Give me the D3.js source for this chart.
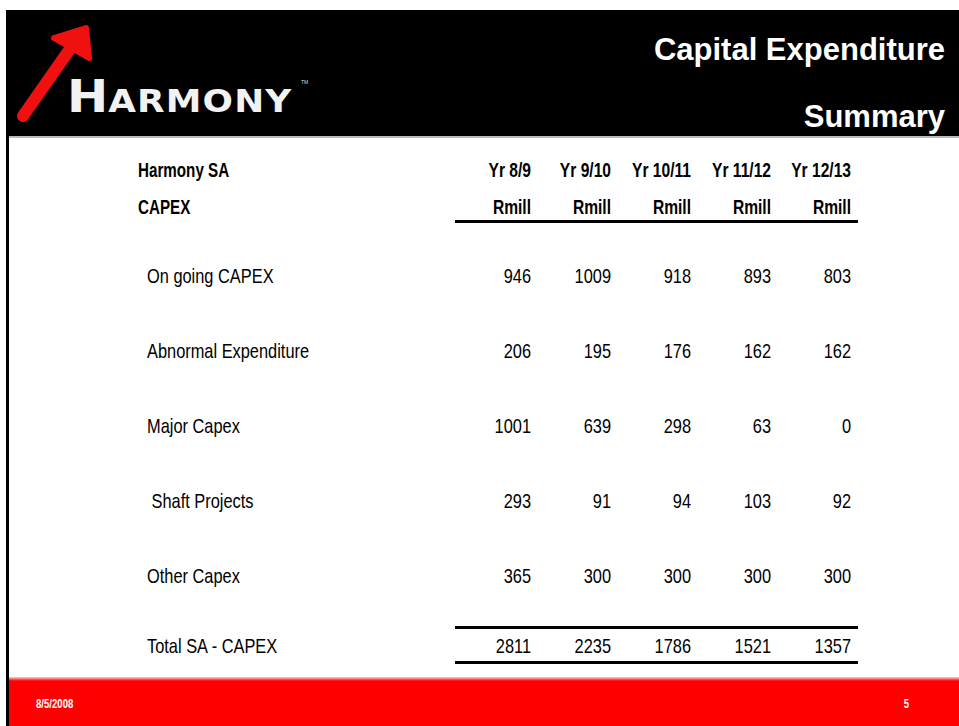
<!DOCTYPE html>
<html>
<head>
<meta charset="utf-8">
<script src="https://cdn.jsdelivr.net/npm/d3@7"></script>
<style>
  body { margin: 0; background: #fff; }
  svg { display: block; }
  .narrow { font-family: "Liberation Sans", Arial, sans-serif; }
</style>
</head>
<body>
<div id="slide"></div>
<script>
// table data
const years = ['Yr 8/9', 'Yr 9/10', 'Yr 10/11', 'Yr 11/12', 'Yr 12/13'];
const units = ['Rmill', 'Rmill', 'Rmill', 'Rmill', 'Rmill'];
const rowLabels = ['On going CAPEX', 'Abnormal Expenditure', 'Major Capex', ' Shaft Projects', 'Other Capex'];
const onGoing = [946, 1009, 918, 893, 803];
const abnormal = [206, 195, 176, 162, 162];
const majorCapex = [1001, 639, 298, 63, 0];
const shaftProjects = [293, 91, 94, 103, 92];
const otherCapex = [365, 300, 300, 300, 300];
const totalLabel = 'Total SA - CAPEX';
const totals = [2811, 2235, 1786, 1521, 1357];

const rows = [onGoing, abnormal, majorCapex, shaftProjects, otherCapex];

const W = 959, H = 726;
const SX = 0.82; // condensed look, no narrow font installed

const svg = d3.select('#slide').append('svg')
  .attr('width', W)
  .attr('height', H);

// header band
svg.append('rect').attr('x', 7).attr('y', 10).attr('width', W - 7).attr('height', 126).attr('fill', '#000');
svg.append('line').attr('x1', 9).attr('x2', W).attr('y1', 137).attr('y2', 137)
  .attr('stroke', '#bbb').attr('stroke-width', 2);

// left border
svg.append('rect').attr('x', 6).attr('y', 10).attr('width', 3).attr('height', H - 10).attr('fill', '#000');

// footer band
const grad = svg.append('defs').append('linearGradient')
  .attr('id', 'fade').attr('x1', 0).attr('x2', 0).attr('y1', 0).attr('y2', 1);
grad.append('stop').attr('offset', '0%').attr('stop-color', '#fbd0d0');
grad.append('stop').attr('offset', '100%').attr('stop-color', '#ff0000');
svg.append('rect').attr('x', 9).attr('y', 677).attr('width', W - 9).attr('height', 4).attr('fill', 'url(#fade)');
svg.append('rect').attr('x', 9).attr('y', 681).attr('width', W - 9).attr('height', H - 681).attr('fill', '#ff0000');

// squeezed text helper
function narrowText(parent, x, y, txt, opts = {}) {
  return parent.append('text')
    .attr('class', 'narrow')
    .attr('transform', `translate(${x},${y}) scale(${opts.sx || SX},1)`)
    .attr('text-anchor', opts.anchor || 'start')
    .attr('font-size', opts.size || 20)
    .attr('font-weight', opts.bold ? 'bold' : 'normal')
    .attr('fill', opts.fill || '#000')
    .attr('dy', opts.dy || null)
    .style('white-space', 'pre')
    .text(txt);
}

narrowText(svg, 36, 708, '8/5/2008', { size: 12, bold: true, fill: '#fff', sx: 0.8 });
narrowText(svg, 909, 708, '5', { size: 12, bold: true, fill: '#fff', anchor: 'end', sx: 0.8 });

// logo: red arrow
const logo = svg.append('g');
logo.append('line')
  .attr('x1', 23).attr('y1', 116).attr('x2', 72).attr('y2', 46)
  .attr('stroke', '#f01010').attr('stroke-width', 12).attr('stroke-linecap', 'round');
logo.append('path')
  .attr('d', 'M 54 38 L 86 28 L 89 58 Z')
  .attr('fill', '#f01010').attr('stroke', '#f01010')
  .attr('stroke-width', 6).attr('stroke-linejoin', 'round');

const brand = logo.append('text')
  .attr('transform', 'translate(67,112) scale(1.12,1)')
  .attr('fill', '#f2f2f2')
  .attr('font-family', '"DejaVu Sans", "Liberation Sans", sans-serif')
  .attr('font-weight', 'bold');
brand.append('tspan').attr('font-size', 44).text('H');
brand.append('tspan').attr('font-size', 32).attr('letter-spacing', 1).text('ARMONY');
logo.append('text')
  .attr('x', 301).attr('y', 84)
  .attr('fill', '#ddd').attr('font-size', 5)
  .attr('font-family', 'Liberation Sans, sans-serif')
  .text('TM');

// title
svg.append('text')
  .attr('x', 945).attr('y', 60).attr('text-anchor', 'end')
  .attr('fill', '#fff').attr('font-size', 31).attr('font-weight', 'bold')
  .attr('font-family', '"Liberation Sans", Arial, sans-serif')
  .text('Capital Expenditure');
svg.append('text')
  .attr('x', 945).attr('y', 127).attr('text-anchor', 'end')
  .attr('fill', '#fff').attr('font-size', 31).attr('font-weight', 'bold')
  .attr('font-family', '"Liberation Sans", Arial, sans-serif')
  .text('Summary');

// scales
const x = d3.scalePoint().domain(years).range([531, 851]);
const y = d3.scalePoint().domain(d3.range(rows.length)).range([276, 576]);
const yTotal = 646;

const table = svg.append('g');

// column headers
narrowText(table, 138, 177, 'Harmony SA', { bold: true, sx: 0.76 });
narrowText(table, 138, 214, 'CAPEX', { bold: true, sx: 0.76 });
years.forEach((yr, i) => {
  narrowText(table, x(yr), 177, yr, { bold: true, anchor: 'end', sx: 0.78 });
  narrowText(table, x(yr), 214, units[i], { bold: true, anchor: 'end', sx: 0.78 });
});

table.append('rect').attr('x', 455).attr('y', 220).attr('width', 403).attr('height', 3);

// body rows
rows.forEach((vals, r) => {
  narrowText(table, 147, y(r), rowLabels[r], { dy: '0.35em' });
  vals.forEach((v, i) => {
    narrowText(table, x(years[i]), y(r), String(v), { dy: '0.35em', anchor: 'end' });
  });
});

// total row
table.append('rect').attr('x', 455).attr('y', 626).attr('width', 403).attr('height', 3);
table.append('rect').attr('x', 455).attr('y', 661).attr('width', 403).attr('height', 3);
narrowText(table, 147, yTotal, totalLabel, { dy: '0.35em' });
totals.forEach((v, i) => {
  narrowText(table, x(years[i]), yTotal, String(v), { dy: '0.35em', anchor: 'end' });
});
</script>
</body>
</html>
